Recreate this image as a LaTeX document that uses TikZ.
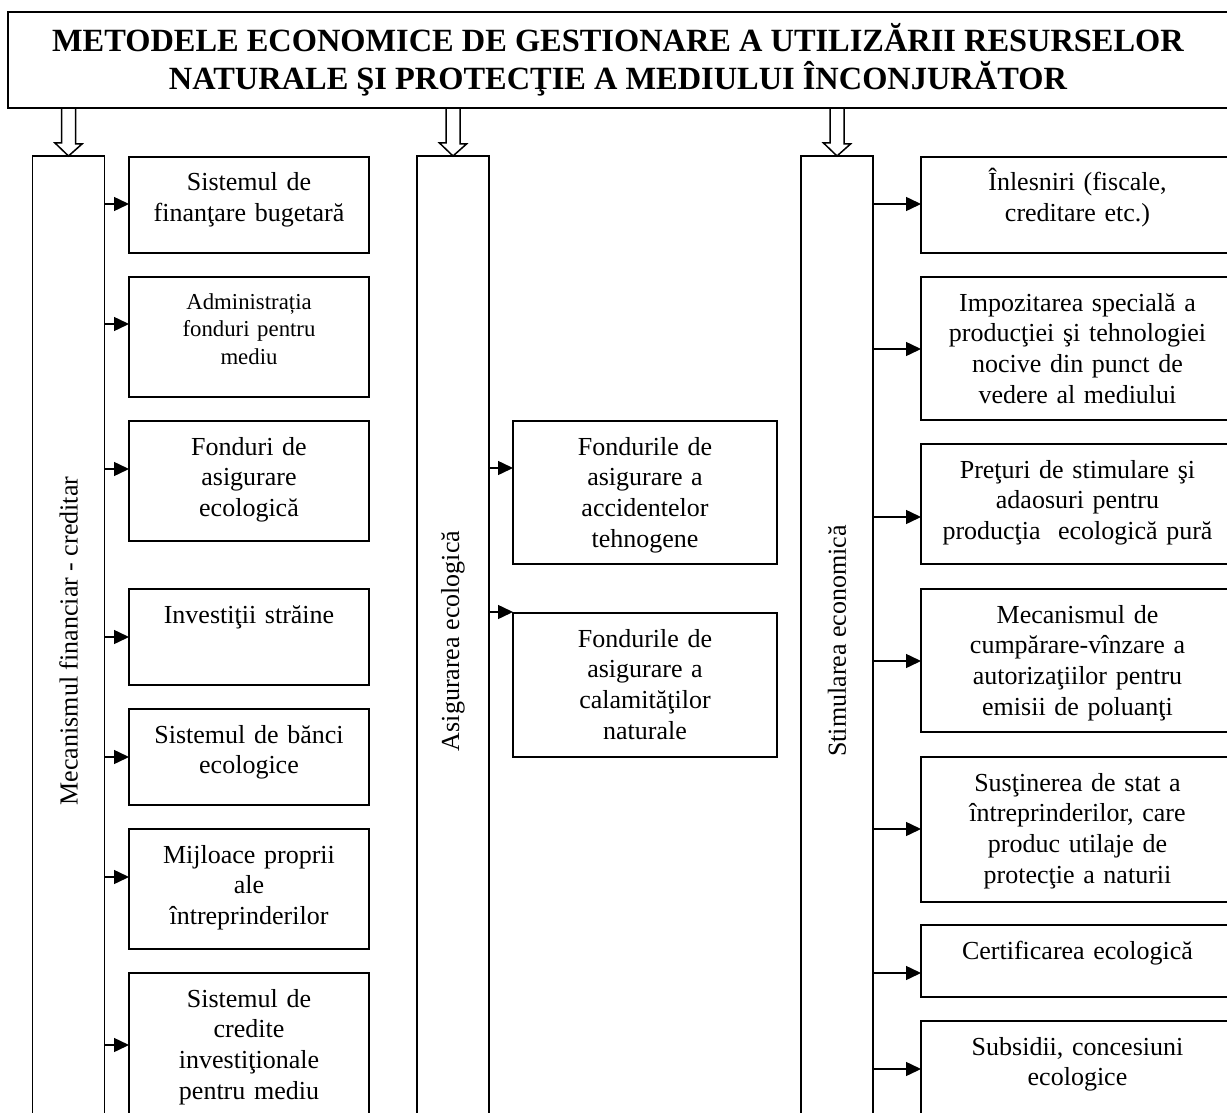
\documentclass[tikz,border=0pt]{standalone}
\usepackage{fontspec}
\setmainfont{Liberation Serif}
\usetikzlibrary{arrows.meta}

\begin{document}
\begin{tikzpicture}[
  titlebox/.style={draw, line width=\schemeLineWidth, minimum width=610pt, minimum height=48pt,
    inner sep=0pt, outer sep=0pt, align=center, font=\bfseries\fontsize{16.2pt}{18.8pt}\selectfont},
  colbox/.style={draw, line width=\schemeLineWidth, rotate=90, minimum width=485pt, minimum height=36pt,
    inner sep=0pt, outer sep=0pt, font=\fontsize{13pt}{15.4pt}\selectfont},
  itembox/.style={draw, line width=\schemeLineWidth, anchor=north west, inner sep=0pt, outer sep=0pt,
    align=center, text height=17pt, font=\fontsize{13pt}{15.4pt}\selectfont},
  smalltext/.style={text height=16pt, font=\fontsize{11.4pt}{13.85pt}\selectfont},
  arr/.style={line width=\schemeLineWidth, -{Triangle[length=7.5pt,width=7pt]}},
  hollowarrow/.style={draw, line width=\schemeLineWidth, line join=miter}
]
% scheme drawn on a pixel grid, origin top left
\def\px{0.5pt}
\providecommand{\schemeLineWidth}{0.75pt}
\begin{scope}[x=\px, y=-\px]
  % Page
  \useasboundingbox[fill=white] (0,0) rectangle (1227,1113);
  % Title
  \node[titlebox] (title) at (618,60) {METODELE ECONOMICE DE GESTIONARE A UTILIZĂRII RESURSELOR\\NATURALE ŞI PROTECŢIE A MEDIULUI ÎNCONJURĂTOR};
  % Columns
  \node[colbox] (col1) at (68.5,641) {Mecanismul financiar - creditar};
  \node[colbox] (col2) at (453,641) {Asigurarea ecologică};
  \node[colbox] (col3) at (837,641) {Stimularea economică};
  % Hollow arrows from the title
  \draw[hollowarrow] (title.south -| col1.east) ++(-7,0) -- ++(0,35) -- ++(-6.5,0) -- (col1.east) -- ++(13.5,-12) -- ++(-6.5,0) -- ++(0,-35);
  \draw[hollowarrow] (title.south -| col2.east) ++(-7,0) -- ++(0,35) -- ++(-6.5,0) -- (col2.east) -- ++(13.5,-12) -- ++(-6.5,0) -- ++(0,-35);
  \draw[hollowarrow] (title.south -| col3.east) ++(-7,0) -- ++(0,35) -- ++(-6.5,0) -- (col3.east) -- ++(13.5,-12) -- ++(-6.5,0) -- ++(0,-35);
  % Financial - credit boxes
  \node[itembox, text width=120pt, text depth=31pt] (a1) at (129,157) {Sistemul de\\finanţare bugetară};
  \node[itembox, smalltext, text width=120pt, text depth=44pt] (a2) at (129,277) {Administrația\\fonduri pentru\\mediu};
  \node[itembox, text width=120pt, text depth=43pt] (a3) at (129,421) {Fonduri de\\asigurare\\ecologică};
  \node[itembox, text width=120pt, text depth=31pt] (a4) at (129,589) {Investiţii străine};
  \node[itembox, text width=120pt, text depth=31pt] (a5) at (129,709) {Sistemul de bănci\\ecologice};
  \node[itembox, text width=120pt, text depth=43pt] (a6) at (129,829) {Mijloace proprii\\ale\\întreprinderilor};
  \node[itembox, text width=120pt, text depth=55pt] (a7) at (129,973) {Sistemul de\\credite\\investiţionale\\pentru mediu};
  % Insurance boxes
  \node[itembox, text width=132pt, text depth=54.5pt] (b1) at (513,421) {Fondurile de\\asigurare a\\accidentelor\\tehnogene};
  \node[itembox, text width=132pt, text depth=55pt] (b2) at (513,613) {Fondurile de\\asigurare a\\calamităţilor\\naturale};
  % Stimulation boxes
  \node[itembox, text width=156.5pt, text depth=31pt] (c1) at (921,157) {Înlesniri (fiscale,\\creditare etc.)};
  \node[itembox, text width=156.5pt, text depth=54.5pt] (c2) at (921,277) {Impozitarea specială a\\producţiei şi tehnologiei\\nocive din punct de\\vedere al mediului};
  \node[itembox, text width=156.5pt, text depth=43pt] (c3) at (921,444) {Preţuri de stimulare şi\\adaosuri pentru\\producţia~~ecologică pură};
  \node[itembox, text width=156.5pt, text depth=54.5pt] (c4) at (921,589) {Mecanismul de\\cumpărare-vînzare a\\autorizaţiilor pentru\\emisii de poluanţi};
  \node[itembox, text width=156.5pt, text depth=55.5pt] (c5) at (921,757) {Susţinerea de stat a\\întreprinderilor, care\\produc utilaje de\\protecţie a naturii};
  \node[itembox, text width=156.5pt, text depth=19pt] (c6) at (921,925) {Certificarea ecologică};
  \node[itembox, text width=156.5pt, text depth=55pt] (c7) at (921,1021) {Subsidii, concesiuni\\ecologice};
  % Arrow heights on the boxes
  \path (a1.north west) ++(0,47) coordinate (a1in);
  \path (a2.north west) ++(0,47) coordinate (a2in);
  \path (a3.north west) ++(0,48) coordinate (a3in);
  \path (a4.north west) ++(0,48) coordinate (a4in);
  \path (a5.north west) ++(0,48) coordinate (a5in);
  \path (a6.north west) ++(0,48) coordinate (a6in);
  \path (a7.north west) ++(0,72) coordinate (a7in);
  \path (b1.north west) ++(0,47) coordinate (b1in);
  \path (b2.north west) ++(0,-1) coordinate (b2in);
  \path (c1.north west) ++(0,47) coordinate (c1in);
  \path (c2.north west) ++(0,72) coordinate (c2in);
  \path (c3.north west) ++(0,73) coordinate (c3in);
  \path (c4.north west) ++(0,72) coordinate (c4in);
  \path (c5.north west) ++(0,72) coordinate (c5in);
  \path (c6.north west) ++(0,48) coordinate (c6in);
  \path (c7.north west) ++(0,48) coordinate (c7in);
  % Arrows
  \draw[arr] (col1.south |- a1in) -- (a1in);
  \draw[arr] (col1.south |- a2in) -- (a2in);
  \draw[arr] (col1.south |- a3in) -- (a3in);
  \draw[arr] (col1.south |- a4in) -- (a4in);
  \draw[arr] (col1.south |- a5in) -- (a5in);
  \draw[arr] (col1.south |- a6in) -- (a6in);
  \draw[arr] (col1.south |- a7in) -- (a7in);
  \draw[arr] (col2.south |- b1in) -- (b1in);
  \draw[arr] (col2.south |- b2in) -- (b2in);
  \draw[arr] (col3.south |- c1in) -- (c1in);
  \draw[arr] (col3.south |- c2in) -- (c2in);
  \draw[arr] (col3.south |- c3in) -- (c3in);
  \draw[arr] (col3.south |- c4in) -- (c4in);
  \draw[arr] (col3.south |- c5in) -- (c5in);
  \draw[arr] (col3.south |- c6in) -- (c6in);
  \draw[arr] (col3.south |- c7in) -- (c7in);
\end{scope}
\end{tikzpicture}
\end{document}
